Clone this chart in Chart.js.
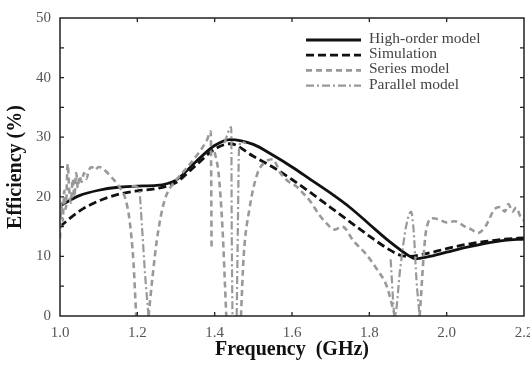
<!DOCTYPE html>
<html lang="en">
<head>
    <meta charset="UTF-8">
    <title>Efficiency vs frequency</title>
    <script src="https://cdn.jsdelivr.net/npm/chart.js"></script>
    <style>
        html, body { margin: 0; padding: 0; background: #fff; overflow: hidden; }
        #wrap { width: 546px; height: 368px; }
    </style>
</head>
<body>
    <div id="wrap">
        <canvas id="myChart" width="546" height="368"></canvas>
    </div>
    <script>
        // axis ticks
        const xTicks = [1.0, 1.2, 1.4, 1.6, 1.8, 2.0, 2.2];
        const yTicks = [0, 10, 20, 30, 40, 50];

        // high-order model (solid black)
        const hoFreq = [1.0, 1.05, 1.1, 1.15, 1.2, 1.25, 1.3, 1.35, 1.4, 1.44, 1.5, 1.55, 1.6, 1.65, 1.7, 1.75, 1.8, 1.85, 1.9, 1.92, 1.95, 2.0, 2.05, 2.1, 2.15, 2.2];
        const hoEff  = [18.5, 20.2, 21.1, 21.6, 21.8, 21.9, 22.8, 25.8, 28.6, 29.6, 28.8, 27.0, 25.0, 22.8, 20.6, 18.2, 15.4, 12.6, 10.2, 9.6, 9.9, 10.7, 11.5, 12.2, 12.7, 12.9];

        // simulation (dashed black)
        const simFreq = [1.0, 1.05, 1.1, 1.15, 1.2, 1.25, 1.3, 1.35, 1.4, 1.44, 1.5, 1.55, 1.6, 1.65, 1.7, 1.75, 1.8, 1.85, 1.88, 1.9, 1.95, 2.0, 2.05, 2.1, 2.15, 2.2];
        const simEff  = [15.0, 17.6, 19.3, 20.4, 21.0, 21.4, 22.4, 25.2, 28.0, 28.9, 26.8, 25.0, 22.9, 20.6, 18.2, 15.8, 13.4, 11.2, 10.2, 10.0, 10.5, 11.3, 12.0, 12.5, 12.9, 13.1];

        // series model (dashed grey), null = break in the trace
        const serFreq = [1.0, 1.003, 1.007, 1.011, 1.015, 1.02, 1.024, 1.028, 1.033, 1.037, 1.042, 1.046, 1.05, 1.056, 1.062, 1.068, 1.075, 1.082, 1.09, 1.1, 1.11, 1.12, 1.13, 1.14, 1.15, 1.16, 1.17, 1.18, 1.19, 1.197, 1.21,
            1.229, 1.24, 1.25, 1.26, 1.27, 1.28, 1.29, 1.3, 1.33, 1.36, 1.38, 1.39, 1.392, 1.396,
            1.4, 1.41, 1.42, 1.43, 1.45,
            1.468, 1.475, 1.49, 1.51, 1.53, 1.55, 1.57, 1.59, 1.61, 1.63, 1.65, 1.67, 1.69, 1.71, 1.73, 1.76, 1.79, 1.82, 1.845, 1.866, 1.9,
            1.93, 1.947, 1.964, 1.98, 2.0, 2.02, 2.05, 2.065, 2.08, 2.1, 2.125, 2.14, 2.15, 2.16, 2.17, 2.18, 2.19, 2.2];
        const serEff = [13, 19, 16, 21, 18, 25.5, 21, 19, 23, 20, 24, 21.5, 23.5, 22.5, 24, 23, 24.5, 25, 24.5, 25, 24.8, 24.2, 23.5, 22.8, 22, 21, 19.5, 16, 9, 0, null,
            0, 7, 12.5, 16.5, 19.3, 21, 22, 22.8, 25, 27.5, 29.5, 31, 11, null,
            27.5, 24, 15, 0, null,
            0, 10, 18, 23.8, 25.8, 26.3, 24, 22.6, 21.8, 20.5, 19, 17, 15.5, 14.5, 15, 12.5, 10.5, 7.8, 5, 0, null,
            0, 14.4, 16.4, 16.2, 15.7, 15.9, 14.9, 14.5, 13.9, 15, 18, 18.3, 17.5, 18.8, 17.5, 18.2, 16.8, 16];

        // parallel model (dash-dot grey)
        const parFreq = [1.185, 1.195, 1.205, 1.212, 1.22, 1.229, 1.3,
            1.425, 1.443, 1.444, 1.446, 1.45,
            1.457, 1.46, 1.463, 1.47, 1.48, 1.6,
            1.855, 1.866, 1.88, 1.895, 1.908, 1.915, 1.922, 1.93];
        const parEff = [21.8, 21.8, 21, 15, 7, 0, null,
            29, 31.7, 16, 0, null,
            0, 15, 28, 29.2, 29, null,
            9.5, 0, 8, 15, 17.5, 14, 6, 0];

        const seriesNames = ['High-order model', 'Simulation', 'Series model', 'Parallel model'];

        function pts(xs, ys) {
            return xs.map(function (x, i) { return { x: x, y: ys[i] }; });
        }

        const styles = [
            { color: '#111', width: 2.8, dash: [] },
            { color: '#111', width: 2.8, dash: [8, 4] },
            { color: '#999', width: 2.6, dash: [6, 4] },
            { color: '#999', width: 2.2, dash: [8, 3, 2, 3] }
        ];
        const series = [pts(hoFreq, hoEff), pts(simFreq, simEff), pts(serFreq, serEff), pts(parFreq, parEff)];

        // draw order: grey models under the black curves
        const order = [2, 3, 1, 0];
        const datasets = order.map(function (k) {
            return {
                label: seriesNames[k],
                data: series[k],
                borderColor: styles[k].color,
                borderWidth: styles[k].width,
                borderDash: styles[k].dash,
                pointRadius: 0,
                fill: false,
                cubicInterpolationMode: 'monotone',
                spanGaps: false
            };
        });

        // frame, inward ticks and legend box
        const framePlugin = {
            id: 'frame',
            afterDatasetsDraw: function (chart) {
                const ctx = chart.ctx;
                const a = chart.chartArea;
                const xs = chart.scales.x, ys = chart.scales.y;
                ctx.save();
                ctx.strokeStyle = '#222';
                ctx.lineWidth = 1.5;
                ctx.setLineDash([]);
                ctx.strokeRect(a.left, a.top, a.right - a.left, a.bottom - a.top);
                ctx.lineWidth = 1.3;
                ctx.beginPath();
                for (let v = 5; v < 50; v += 5) {
                    const py = ys.getPixelForValue(v);
                    ctx.moveTo(a.left, py); ctx.lineTo(a.left + 4, py);
                    ctx.moveTo(a.right, py); ctx.lineTo(a.right - 4, py);
                }
                xTicks.slice(1, -1).forEach(function (v) {
                    const px = xs.getPixelForValue(v);
                    ctx.moveTo(px, a.bottom); ctx.lineTo(px, a.bottom - 4);
                    ctx.moveTo(px, a.top); ctx.lineTo(px, a.top + 4);
                });
                ctx.stroke();

                // legend
                const lx = a.left + 246, ly = a.top + 22, step = 15.2;
                ctx.font = '15.5px "Liberation Serif", serif';
                ctx.textBaseline = 'middle';
                ctx.textAlign = 'left';
                seriesNames.forEach(function (name, k) {
                    const y = ly + k * step;
                    ctx.strokeStyle = styles[k].color;
                    ctx.lineWidth = styles[k].width;
                    ctx.setLineDash(styles[k].dash);
                    ctx.beginPath();
                    ctx.moveTo(lx, y); ctx.lineTo(lx + 55, y);
                    ctx.stroke();
                    ctx.fillStyle = '#444';
                    ctx.fillText(name, lx + 63, y - 1);
                });
                ctx.restore();
            }
        };

        new Chart(document.getElementById('myChart'), {
            type: 'line',
            data: { datasets: datasets },
            options: {
                responsive: false,
                animation: false,
                layout: { padding: { top: 15, right: 22, left: 0, bottom: 0 } },
                plugins: { legend: { display: false }, tooltip: { enabled: false } },
                scales: {
                    x: {
                        type: 'linear',
                        min: 1.0,
                        max: 2.2,
                        afterBuildTicks: function (s) { s.ticks = xTicks.map(function (v) { return { value: v }; }); },
                        afterFit: function (s) { s.height = 52; },
                        grid: { display: false, drawTicks: false },
                        border: { display: false },
                        ticks: {
                            padding: 8,
                            color: '#555',
                            font: { family: 'Liberation Serif', size: 15 },
                            maxRotation: 0,
                            autoSkip: false,
                            callback: function (v) { return Number(v).toFixed(1); }
                        },
                        title: {
                            display: true,
                            text: 'Frequency  (GHz)',
                            color: '#111',
                            font: { family: 'Liberation Serif', size: 20, weight: 'bold' },
                            padding: { top: 0, bottom: 6 }
                        }
                    },
                    y: {
                        min: 0,
                        max: 50,
                        afterBuildTicks: function (s) { s.ticks = yTicks.map(function (v) { return { value: v }; }); },
                        afterFit: function (s) { s.width = 60; },
                        grid: { display: false, drawTicks: false },
                        border: { display: false },
                        ticks: {
                            padding: 9,
                            color: '#555',
                            font: { family: 'Liberation Serif', size: 15 }
                        },
                        title: {
                            display: true,
                            text: 'Efficiency (%)',
                            color: '#111',
                            font: { family: 'Liberation Serif', size: 20, weight: 'bold' },
                            padding: { top: 4, bottom: 0 }
                        }
                    }
                }
            },
            plugins: [framePlugin]
        });
    </script>
</body>
</html>
